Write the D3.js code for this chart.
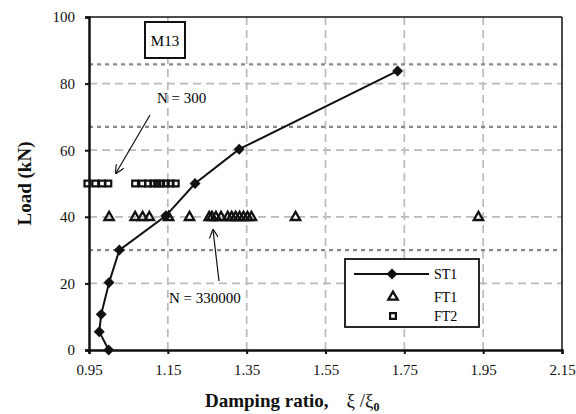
<!DOCTYPE html>
<html>
<head>
<meta charset="utf-8">
<script src="https://d3js.org/d3.v7.min.js"></script>
<style>
  body { margin: 0; background: #fff; }
  svg text { font-family: "Liberation Serif", "Times New Roman", Times, "DejaVu Serif", serif !important; }
</style>
</head>
<body>
<div id="chart"></div>
<script>
// ST1 static test curve
var st1X = [1.00, 0.976, 0.981, 1.001, 1.027, 1.145, 1.219, 1.331, 1.733];
var st1Y = [0, 5.5, 10.7, 20.3, 30, 40.3, 50, 60.3, 83.8];
// FT1 fatigue test at 40 kN
var ft1X = [1.001, 1.067, 1.086, 1.103, 1.152, 1.205, 1.255, 1.262, 1.272, 1.285, 1.302,
            1.312, 1.322, 1.332, 1.342, 1.352, 1.362, 1.474, 1.938];
var ft1Load = 40;
// FT2 fatigue test at 50 kN
var ft2X = [0.946, 0.966, 0.983, 0.999, 1.067, 1.085, 1.100, 1.113, 1.123, 1.133, 1.145, 1.157, 1.170];
var ft2Load = 50;
// dotted reference load levels
var refLoads = [85.8, 67, 30];

var xTicks = [0.95, 1.15, 1.35, 1.55, 1.75, 1.95, 2.15];
var yTicks = [0, 20, 40, 60, 80, 100];
var legendNames = ["ST1", "FT1", "FT2"];

function init(){

    var w = 576;
    var h = 414;
    var margin = {left: 89, right: 14, top: 17, bottom: 64};

    var xScale = d3.scaleLinear()
                    .domain([0.95, 2.15])
                    .range([margin.left, w - margin.right]);
    var yScale = d3.scaleLinear()
                    .domain([0, 100])
                    .range([h - margin.bottom, margin.top]);

    var svg = d3.select("#chart")
                .append("svg")
                .attr("width", w)
                .attr("height", h);

    var x0 = xScale.range()[0], x1 = xScale.range()[1];
    var y0 = yScale.range()[0], y1 = yScale.range()[1];

    // light dashed grid
    svg.selectAll(".hgrid")
        .data(yTicks.slice(1, -1))
        .enter()
        .append("line")
        .attr("x1", x0).attr("x2", x1)
        .attr("y1", function(d){ return yScale(d); })
        .attr("y2", function(d){ return yScale(d); })
        .attr("stroke", "#bbb")
        .attr("stroke-width", 1.7)
        .attr("stroke-dasharray", "8,5");

    svg.selectAll(".vgrid")
        .data(xTicks.slice(1, -1))
        .enter()
        .append("line")
        .attr("y1", y1).attr("y2", y0)
        .attr("x1", function(d){ return xScale(d); })
        .attr("x2", function(d){ return xScale(d); })
        .attr("stroke", "#bbb")
        .attr("stroke-width", 1.7)
        .attr("stroke-dasharray", "8,5");

    // darker dotted reference lines
    svg.selectAll(".ref")
        .data(refLoads)
        .enter()
        .append("line")
        .attr("x1", x0).attr("x2", x1)
        .attr("y1", function(d){ return yScale(d); })
        .attr("y2", function(d){ return yScale(d); })
        .attr("stroke", "#888")
        .attr("stroke-width", 2.2)
        .attr("stroke-dasharray", "4,4");

    // plot frame
    svg.append("line").attr("x1", x0).attr("x2", x1).attr("y1", y1).attr("y2", y1)
        .attr("stroke", "#111").attr("stroke-width", 1.5);
    svg.append("line").attr("x1", x1).attr("x2", x1).attr("y1", y1).attr("y2", y0)
        .attr("stroke", "#111").attr("stroke-width", 1.5);

    // axes
    var xAxis = d3.axisBottom(xScale)
                    .tickValues(xTicks)
                    .tickFormat(d3.format(".2f"))
                    .tickSize(4)
                    .tickPadding(10);
    var yAxis = d3.axisLeft(yScale)
                    .tickValues(yTicks)
                    .tickSize(4)
                    .tickPadding(10);

    var gx = svg.append("g")
        .attr("transform", "translate(0," + y0 + ")")
        .call(xAxis);
    var gy = svg.append("g")
        .attr("transform", "translate(" + x0 + ",0)")
        .call(yAxis);

    [gx, gy].forEach(function(g){
        g.attr("font-family", null);
        g.select(".domain").attr("stroke", "#111").attr("stroke-width", 2.5);
        g.selectAll(".tick line").attr("stroke", "#111").attr("stroke-width", 2);
        g.selectAll(".tick text")
            .attr("fill", "#111")
            .style("font-size", "15px");
    });

    // ST1 line + diamonds
    var st1 = st1X.map(function(d, i){ return [d, st1Y[i]]; });
    var line = d3.line()
                .x(function(d){ return xScale(d[0]); })
                .y(function(d){ return yScale(d[1]); });

    svg.append("path")
        .datum(st1)
        .attr("d", line)
        .attr("fill", "none")
        .attr("stroke", "#111")
        .attr("stroke-width", 2);

    var diamond = d3.symbol().type(d3.symbolSquare).size(60);
    var tri = d3.symbol().type(d3.symbolTriangle).size(38);
    var square = d3.symbol().type(d3.symbolSquare).size(34);

    svg.selectAll(".st1")
        .data(st1)
        .enter()
        .append("path")
        .attr("d", diamond)
        .attr("transform", function(d){
            return "translate(" + xScale(d[0]) + "," + yScale(d[1]) + ") rotate(45)";
        })
        .attr("fill", "#111");

    svg.selectAll(".ft1")
        .data(ft1X)
        .enter()
        .append("path")
        .attr("d", tri)
        .attr("transform", function(d){
            return "translate(" + xScale(d) + "," + (yScale(ft1Load) + 0.5) + ")";
        })
        .attr("fill", "none")
        .attr("stroke", "#111")
        .attr("stroke-width", 2.3);

    svg.selectAll(".ft2")
        .data(ft2X)
        .enter()
        .append("path")
        .attr("d", square)
        .attr("transform", function(d){
            return "translate(" + xScale(d) + "," + yScale(ft2Load) + ")";
        })
        .attr("fill", "none")
        .attr("stroke", "#111")
        .attr("stroke-width", 2.2);

    // arrow marker
    svg.append("defs").append("marker")
        .attr("id", "arrow")
        .attr("viewBox", "0 0 10 10")
        .attr("refX", 9).attr("refY", 5)
        .attr("markerWidth", 9).attr("markerHeight", 9)
        .attr("markerUnits", "userSpaceOnUse")
        .attr("orient", "auto")
        .append("path")
        .attr("d", "M0,0 L10,5 L0,10")
        .attr("fill", "none")
        .attr("stroke", "#111")
        .attr("stroke-width", 1.3);

    // annotations
    svg.append("rect")
        .attr("x", 145).attr("y", 22)
        .attr("width", 40).attr("height", 36)
        .attr("fill", "#fff")
        .attr("stroke", "#111")
        .attr("stroke-width", 2);
    svg.append("text")
        .attr("x", 165).attr("y", 46)
        .attr("text-anchor", "middle")
        .style("font-size", "15px")
        .text("M13");

    svg.append("text")
        .attr("x", 157).attr("y", 103)
        .style("font-size", "15px")
        .text("N = 300");
    svg.append("line")
        .attr("x1", 150).attr("y1", 115)
        .attr("x2", 116).attr("y2", 173)
        .attr("stroke", "#111").attr("stroke-width", 1.2)
        .attr("marker-end", "url(#arrow)");

    svg.append("text")
        .attr("x", 169).attr("y", 303)
        .style("font-size", "15px")
        .text("N = 330000");
    svg.append("line")
        .attr("x1", 219).attr("y1", 281)
        .attr("x2", 213).attr("y2", 230)
        .attr("stroke", "#111").attr("stroke-width", 1.2)
        .attr("marker-end", "url(#arrow)");

    // legend
    var lg = svg.append("g").attr("transform", "translate(345,259)");
    lg.append("rect")
        .attr("width", 134).attr("height", 68)
        .attr("fill", "#fff")
        .attr("stroke", "#111")
        .attr("stroke-width", 1.8);
    var rowY = [15, 38, 57];
    lg.append("line")
        .attr("x1", 9).attr("x2", 84)
        .attr("y1", rowY[0]).attr("y2", rowY[0])
        .attr("stroke", "#111").attr("stroke-width", 1.8);
    lg.append("path").attr("d", diamond)
        .attr("transform", "translate(47," + rowY[0] + ") rotate(45)")
        .attr("fill", "#111");
    lg.append("path").attr("d", tri)
        .attr("transform", "translate(48," + rowY[1] + ")")
        .attr("fill", "none").attr("stroke", "#111").attr("stroke-width", 2.3);
    lg.append("path").attr("d", square)
        .attr("transform", "translate(48," + rowY[2] + ")")
        .attr("fill", "none").attr("stroke", "#111").attr("stroke-width", 2.2);
    lg.selectAll(".lt")
        .data(legendNames)
        .enter()
        .append("text")
        .attr("x", 89)
        .attr("y", function(d, i){ return rowY[i] + 5; })
        .style("font-size", "14px")
        .text(function(d){ return d; });

    // axis titles
    var xt = svg.append("text")
        .attr("x", 205).attr("y", 407)
        .style("font-size", "19px")
        .attr("fill", "#111");
    xt.append("tspan").style("font-weight", "bold").text("Damping ratio,");
    xt.append("tspan").attr("dx", 18).text("\u03be /\u03be");
    xt.append("tspan").attr("dy", 4).style("font-size", "12px").style("font-weight", "bold").text("0");

    svg.append("text")
        .attr("transform", "translate(31," + ((y0 + y1) / 2) + ") rotate(-90)")
        .attr("text-anchor", "middle")
        .style("font-size", "19px")
        .style("font-weight", "bold")
        .attr("fill", "#111")
        .text("Load (kN)");
}

window.onload = init;
</script>
</body>
</html>
